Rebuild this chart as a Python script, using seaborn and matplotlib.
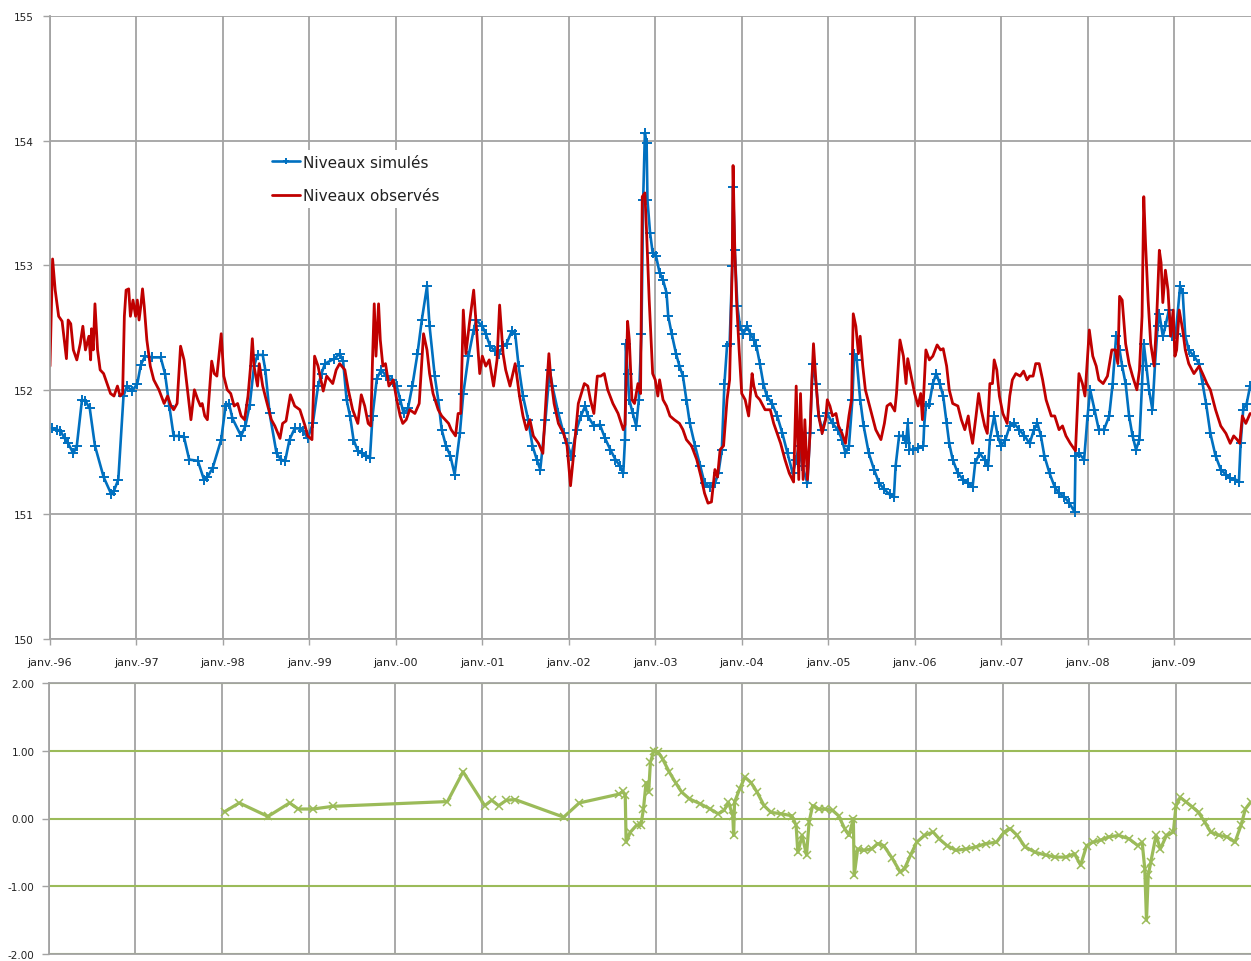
import pandas as pd
import matplotlib
matplotlib.use("Agg")
import matplotlib.pyplot as plt
import seaborn as sns

OUT_FILE = "out.png"

# niveaux observés (année décimale, m)
obs_year = [
    1996.00, 1996.03, 1996.06, 1996.10, 1996.14, 1996.19, 1996.21, 1996.24, 1996.27, 1996.31,
    1996.35, 1996.38, 1996.41, 1996.45, 1996.47, 1996.48, 1996.50, 1996.52, 1996.55, 1996.58,
    1996.62, 1996.66, 1996.70, 1996.74, 1996.78, 1996.81, 1996.84, 1996.86, 1996.88, 1996.91,
    1996.93, 1996.96, 1996.99, 1997.01, 1997.03, 1997.05, 1997.07, 1997.09, 1997.12, 1997.16,
    1997.20, 1997.26, 1997.32, 1997.36, 1997.40, 1997.43, 1997.47, 1997.51, 1997.55, 1997.59,
    1997.63, 1997.67, 1997.71, 1997.74, 1997.76, 1997.79, 1997.82, 1997.87, 1997.90, 1997.93,
    1997.98, 1998.01, 1998.05, 1998.09, 1998.13, 1998.17, 1998.21, 1998.25, 1998.29, 1998.32,
    1998.34, 1998.36, 1998.40, 1998.42, 1998.46, 1998.50, 1998.56, 1998.60, 1998.66, 1998.69,
    1998.73, 1998.78, 1998.83, 1998.89, 1998.95, 1998.98, 1999.03, 1999.06, 1999.10, 1999.16,
    1999.20, 1999.27, 1999.31, 1999.35, 1999.41, 1999.45, 1999.50, 1999.56, 1999.60, 1999.64,
    1999.68, 1999.71, 1999.73, 1999.75, 1999.77, 1999.80, 1999.82, 1999.85, 1999.88, 1999.92,
    1999.97, 2000.01, 2000.05, 2000.08, 2000.12, 2000.16, 2000.22, 2000.27, 2000.32, 2000.36,
    2000.39, 2000.43, 2000.49, 2000.53, 2000.57, 2000.61, 2000.64, 2000.69, 2000.72, 2000.75,
    2000.78, 2000.81, 2000.85, 2000.87, 2000.90, 2000.93, 2000.97, 2001.00, 2001.04, 2001.08,
    2001.13, 2001.17, 2001.20, 2001.24, 2001.27, 2001.32, 2001.38, 2001.43, 2001.47, 2001.51,
    2001.55, 2001.59, 2001.65, 2001.70, 2001.74, 2001.77, 2001.79, 2001.83, 2001.88, 2001.94,
    2001.98, 2002.02, 2002.05, 2002.11, 2002.18, 2002.22, 2002.25, 2002.29, 2002.33, 2002.37,
    2002.41, 2002.45, 2002.51, 2002.57, 2002.63, 2002.65, 2002.68, 2002.70, 2002.73, 2002.76,
    2002.80, 2002.83, 2002.85, 2002.88, 2002.90, 2002.93, 2002.97, 2003.00, 2003.03, 2003.05,
    2003.09, 2003.13, 2003.17, 2003.22, 2003.28, 2003.32, 2003.36, 2003.42, 2003.48, 2003.53,
    2003.57, 2003.61, 2003.65, 2003.69, 2003.72, 2003.75, 2003.79, 2003.83, 2003.86, 2003.89,
    2003.90, 2003.92, 2003.94, 2003.97, 2004.00, 2004.04, 2004.08, 2004.12, 2004.14, 2004.17,
    2004.21, 2004.27, 2004.33, 2004.37, 2004.45, 2004.50, 2004.55, 2004.60, 2004.63, 2004.66,
    2004.68, 2004.71, 2004.73, 2004.76, 2004.79, 2004.81, 2004.83, 2004.86, 2004.89, 2004.93,
    2004.97, 2004.99, 2005.02, 2005.05, 2005.09, 2005.12, 2005.16, 2005.20, 2005.24, 2005.27,
    2005.29, 2005.32, 2005.35, 2005.37, 2005.40, 2005.43, 2005.49, 2005.55, 2005.61, 2005.65,
    2005.68, 2005.72, 2005.77, 2005.79, 2005.83, 2005.87, 2005.90, 2005.92, 2005.96, 2006.00,
    2006.04, 2006.07, 2006.09, 2006.13, 2006.17, 2006.21, 2006.26, 2006.30, 2006.33, 2006.37,
    2006.40, 2006.44, 2006.50, 2006.54, 2006.58, 2006.62, 2006.64, 2006.67, 2006.71, 2006.74,
    2006.77, 2006.81, 2006.84, 2006.87, 2006.90, 2006.92, 2006.95, 2006.98, 2007.02, 2007.07,
    2007.10, 2007.13, 2007.17, 2007.22, 2007.26, 2007.30, 2007.33, 2007.37, 2007.40, 2007.44,
    2007.48, 2007.52, 2007.58, 2007.62, 2007.67, 2007.71, 2007.75, 2007.80, 2007.86, 2007.90,
    2007.94, 2007.97, 2008.02, 2008.06, 2008.10, 2008.13, 2008.18, 2008.23, 2008.28, 2008.32,
    2008.35, 2008.37, 2008.40, 2008.44, 2008.48, 2008.52, 2008.57, 2008.60, 2008.63, 2008.65,
    2008.67, 2008.70, 2008.73, 2008.77, 2008.80, 2008.83, 2008.85, 2008.87, 2008.90, 2008.93,
    2008.96, 2008.99, 2009.01, 2009.03, 2009.06, 2009.10, 2009.13, 2009.17, 2009.23, 2009.29,
    2009.33, 2009.38, 2009.42, 2009.48, 2009.54, 2009.60, 2009.65, 2009.69, 2009.73, 2009.76,
    2009.79, 2009.83, 2009.88,
]
obs_level = [
    152.19, 153.05, 152.80, 152.59, 152.55, 152.25, 152.56, 152.53, 152.32, 152.24,
    152.37, 152.51, 152.32, 152.43, 152.24, 152.49, 152.32, 152.69, 152.32, 152.16,
    152.13, 152.05, 151.97, 151.95, 152.03, 151.95, 151.97, 152.59, 152.80, 152.81,
    152.59, 152.72, 152.59, 152.72, 152.56, 152.67, 152.81, 152.67, 152.40, 152.19,
    152.08, 152.00, 151.89, 151.95, 151.87, 151.84, 151.89, 152.35, 152.24, 152.00,
    151.76, 152.00, 151.92, 151.87, 151.89, 151.79, 151.76, 152.23, 152.13, 152.11,
    152.45, 152.11, 152.00, 151.97, 151.87, 151.89, 151.79, 151.76, 151.95, 152.19,
    152.41, 152.19, 152.03, 152.21, 152.03, 151.92, 151.76, 151.71, 151.61, 151.73,
    151.75, 151.96, 151.87, 151.84, 151.71, 151.63, 151.60, 152.27, 152.19, 151.99,
    152.11, 152.05, 152.16, 152.21, 152.16, 152.00, 151.84, 151.73, 151.96, 151.87,
    151.73, 151.71, 152.24, 152.69, 152.27, 152.69, 152.40, 152.19, 152.21, 152.03,
    152.08, 151.92, 151.79, 151.73, 151.76, 151.84, 151.81, 151.89, 152.45, 152.32,
    152.13, 151.97, 151.84, 151.79, 151.76, 151.73, 151.68, 151.63, 151.81, 151.81,
    152.64, 152.29, 152.53, 152.64, 152.80, 152.51, 152.13, 152.27, 152.19, 152.24,
    152.03, 152.24, 152.68, 152.29, 152.16, 152.03, 152.21, 151.95, 151.79, 151.68,
    151.76, 151.63, 151.57, 151.49, 151.97, 152.29, 152.11, 151.89, 151.73, 151.65,
    151.55, 151.23, 151.44, 151.89, 152.05, 152.03, 151.92, 151.81, 152.11, 152.11,
    152.13, 152.00, 151.89, 151.81, 151.68, 151.72, 152.55, 152.40, 151.92, 151.89,
    152.05, 151.97, 153.55, 153.58, 153.26, 152.72, 152.13, 152.08, 151.95, 152.08,
    151.92, 151.87, 151.79, 151.76, 151.73, 151.68, 151.60, 151.55, 151.44, 151.30,
    151.17, 151.09, 151.10, 151.36, 151.30, 151.52, 151.55, 151.92, 152.08, 152.99,
    153.80, 153.12, 152.72, 152.32, 151.97, 151.92, 151.79, 152.13, 152.03, 151.95,
    151.92, 151.84, 151.84, 151.73, 151.57, 151.44, 151.33, 151.26, 152.03, 151.28,
    151.97, 151.28, 151.76, 151.28, 151.65, 152.05, 152.37, 152.05, 151.79, 151.65,
    151.76, 151.92, 151.87, 151.79, 151.81, 151.71, 151.65, 151.57, 151.79, 151.92,
    152.61, 152.51, 152.29, 152.43, 152.19, 152.00, 151.84, 151.68, 151.60, 151.73,
    151.87, 151.89, 151.83, 151.97, 152.40, 152.27, 152.05, 152.25, 152.11, 151.97,
    151.87, 151.97, 151.76, 152.32, 152.24, 152.27, 152.36, 152.32, 152.33, 152.19,
    152.00, 151.89, 151.87, 151.76, 151.68, 151.79, 151.68, 151.57, 151.79, 151.97,
    151.84, 151.71, 151.65, 152.05, 152.05, 152.24, 152.16, 151.95, 151.81, 151.73,
    151.95, 152.08, 152.13, 152.11, 152.15, 152.08, 152.11, 152.11, 152.21, 152.21,
    152.08, 151.92, 151.79, 151.79, 151.68, 151.71, 151.63, 151.57, 151.51, 152.13,
    152.05, 151.95, 152.48, 152.27, 152.19, 152.08, 152.05, 152.11, 152.32, 152.32,
    152.21, 152.75, 152.72, 152.37, 152.21, 152.11, 152.00, 152.16, 152.59, 153.55,
    153.18, 152.72, 152.37, 152.19, 152.59, 153.12, 153.02, 152.70, 152.96, 152.80,
    152.43, 152.64, 152.27, 152.32, 152.64, 152.48, 152.32, 152.21, 152.13, 152.19,
    152.13, 152.05, 152.00, 151.84, 151.71, 151.65, 151.57, 151.63, 151.60, 151.57,
    151.79, 151.73, 151.81,
]

# niveaux simulés
sim_year = [
    1996.02, 1996.08, 1996.12, 1996.17, 1996.21, 1996.27, 1996.31, 1996.37, 1996.41, 1996.46,
    1996.52, 1996.62, 1996.71, 1996.74, 1996.79, 1996.85, 1996.89, 1996.95, 1997.01, 1997.05,
    1997.10, 1997.18, 1997.28, 1997.33, 1997.38, 1997.43, 1997.49, 1997.55, 1997.61, 1997.71,
    1997.78, 1997.82, 1997.88, 1997.98, 1998.03, 1998.07, 1998.11, 1998.21, 1998.26, 1998.31,
    1998.36, 1998.40, 1998.46, 1998.49, 1998.54, 1998.62, 1998.67, 1998.72, 1998.77, 1998.83,
    1998.89, 1998.93, 1998.98, 1999.04, 1999.10, 1999.14, 1999.18, 1999.29, 1999.35, 1999.39,
    1999.43, 1999.47, 1999.51, 1999.56, 1999.61, 1999.66, 1999.70, 1999.73, 1999.78, 1999.83,
    1999.89, 1999.95, 2000.01, 2000.05, 2000.09, 2000.14, 2000.19, 2000.25, 2000.30, 2000.36,
    2000.39, 2000.45, 2000.49, 2000.53, 2000.58, 2000.63, 2000.68, 2000.74, 2000.78, 2000.84,
    2000.90, 2000.93, 2001.00, 2001.04, 2001.09, 2001.15, 2001.19, 2001.24, 2001.28, 2001.34,
    2001.38, 2001.42, 2001.47, 2001.53, 2001.58, 2001.63, 2001.67, 2001.73, 2001.78, 2001.81,
    2001.88, 2001.94, 2001.98, 2002.03, 2002.09, 2002.14, 2002.19, 2002.22, 2002.29, 2002.36,
    2002.42, 2002.48, 2002.54, 2002.59, 2002.63, 2002.65, 2002.66, 2002.68, 2002.70, 2002.74,
    2002.78, 2002.81, 2002.84, 2002.86, 2002.88, 2002.90, 2002.91, 2002.94, 2002.97, 2003.01,
    2003.05, 2003.09, 2003.13, 2003.15, 2003.19, 2003.24, 2003.28, 2003.32, 2003.36, 2003.40,
    2003.46, 2003.52, 2003.57, 2003.63, 2003.69, 2003.73, 2003.77, 2003.80, 2003.83, 2003.86,
    2003.89, 2003.90, 2003.92, 2003.95, 2003.98, 2004.02, 2004.06, 2004.10, 2004.14, 2004.17,
    2004.21, 2004.25, 2004.29, 2004.35, 2004.41, 2004.47, 2004.53, 2004.59, 2004.63, 2004.66,
    2004.70, 2004.76, 2004.79, 2004.82, 2004.86, 2004.89, 2004.93, 2004.99, 2005.05, 2005.11,
    2005.16, 2005.20, 2005.24, 2005.28, 2005.30, 2005.33, 2005.37, 2005.41, 2005.47, 2005.53,
    2005.59, 2005.65, 2005.71, 2005.76, 2005.78, 2005.82, 2005.87, 2005.90, 2005.92, 2005.94,
    2005.98, 2006.04, 2006.10, 2006.11, 2006.13, 2006.17, 2006.21, 2006.25, 2006.29, 2006.33,
    2006.37, 2006.40, 2006.44, 2006.50, 2006.56, 2006.62, 2006.67, 2006.70, 2006.75, 2006.81,
    2006.85, 2006.87, 2006.92, 2006.96, 2007.00, 2007.05, 2007.10, 2007.15, 2007.21, 2007.27,
    2007.33, 2007.38, 2007.42, 2007.46, 2007.50, 2007.56, 2007.62, 2007.67, 2007.73, 2007.79,
    2007.85, 2007.86, 2007.90, 2007.96, 2008.00, 2008.03, 2008.08, 2008.13, 2008.19, 2008.25,
    2008.29, 2008.33, 2008.37, 2008.40, 2008.44, 2008.48, 2008.52, 2008.56, 2008.60, 2008.63,
    2008.65, 2008.68, 2008.71, 2008.75, 2008.78, 2008.81, 2008.83, 2008.87, 2008.90, 2008.94,
    2008.98, 2009.02, 2009.07, 2009.10, 2009.13, 2009.17, 2009.23, 2009.29, 2009.33, 2009.37,
    2009.42, 2009.48, 2009.54, 2009.60, 2009.65, 2009.71, 2009.75, 2009.77, 2009.80, 2009.84,
    2009.88,
]
sim_level = [
    151.69, 151.68, 151.67, 151.61, 151.57, 151.49, 151.55, 151.92, 151.91, 151.85,
    151.55, 151.30, 151.16, 151.19, 151.28, 151.95, 152.03, 151.99, 152.05, 152.20,
    152.27, 152.26, 152.26, 152.13, 151.87, 151.63, 151.63, 151.62, 151.44, 151.43,
    151.28, 151.30, 151.37, 151.60, 151.87, 151.89, 151.77, 151.63, 151.71, 151.88,
    152.19, 152.28, 152.28, 152.16, 151.81, 151.49, 151.44, 151.43, 151.60, 151.69,
    151.69, 151.67, 151.61, 151.73, 152.03, 152.13, 152.21, 152.25, 152.29, 152.23,
    151.92, 151.79, 151.60, 151.51, 151.49, 151.47, 151.45, 151.79, 152.09, 152.16,
    152.11, 152.08, 152.03, 151.92, 151.81, 151.85, 152.03, 152.29, 152.56, 152.83,
    152.51, 152.11, 151.92, 151.68, 151.55, 151.47, 151.32, 151.65, 151.97, 152.27,
    152.48, 152.56, 152.51, 152.45, 152.35, 152.31, 152.29, 152.35, 152.37, 152.47,
    152.45, 152.19, 151.95, 151.76, 151.55, 151.44, 151.36, 151.76, 152.16, 152.03,
    151.81, 151.65, 151.57, 151.47, 151.68, 151.79, 151.87, 151.79, 151.71, 151.72,
    151.61, 151.52, 151.44, 151.39, 151.33, 151.60, 152.37, 152.13, 151.92, 151.81,
    151.71, 151.92, 152.45, 153.52, 154.06, 153.98, 153.52, 153.26, 153.10, 153.07,
    152.94, 152.88, 152.78, 152.59, 152.45, 152.29, 152.19, 152.11, 151.92, 151.73,
    151.55, 151.39, 151.25, 151.22, 151.25, 151.33, 151.52, 152.05, 152.35, 152.37,
    152.99, 153.63, 153.12, 152.67, 152.51, 152.45, 152.51, 152.45, 152.40, 152.35,
    152.21, 152.05, 151.95, 151.89, 151.79, 151.65, 151.49, 151.33, 151.44, 151.55,
    151.39, 151.25, 151.65, 152.21, 152.05, 151.79, 151.68, 151.81, 151.73, 151.68,
    151.60, 151.49, 151.55, 151.92, 152.29, 152.24, 151.92, 151.71, 151.49, 151.36,
    151.25, 151.20, 151.16, 151.14, 151.39, 151.63, 151.63, 151.57, 151.73, 151.52,
    151.52, 151.53, 151.55, 151.71, 151.87, 151.89, 152.05, 152.13, 152.05, 151.95,
    151.73, 151.57, 151.44, 151.33, 151.28, 151.25, 151.22, 151.41, 151.49, 151.44,
    151.39, 151.60, 151.79, 151.63, 151.55, 151.60, 151.71, 151.73, 151.68, 151.63,
    151.57, 151.68, 151.73, 151.63, 151.47, 151.33, 151.22, 151.17, 151.14, 151.09,
    151.02, 151.47, 151.49, 151.44, 151.79, 152.00, 151.84, 151.68, 151.68, 151.79,
    152.05, 152.43, 152.32, 152.19, 152.05, 151.79, 151.63, 151.52, 151.60, 152.05,
    152.37, 152.19, 152.00, 151.84, 152.21, 152.51, 152.61, 152.43, 152.51, 152.64,
    152.43, 152.45, 152.83, 152.78, 152.43, 152.32, 152.27, 152.21, 152.05, 151.89,
    151.65, 151.47, 151.36, 151.32, 151.29, 151.28, 151.26, 151.57, 151.84, 151.89,
    152.03,
]

# écarts simulé - observé
res_year = [
    1998.03, 1998.20, 1998.53, 1998.78, 1998.88, 1999.05, 1999.28, 2000.60, 2000.78, 2001.03,
    2001.11, 2001.19, 2001.28, 2001.38, 2001.94, 2002.12, 2002.58, 2002.62, 2002.65, 2002.66,
    2002.71, 2002.78, 2002.83, 2002.86, 2002.89, 2002.92, 2002.94, 2002.98, 2003.03, 2003.08,
    2003.16, 2003.23, 2003.30, 2003.39, 2003.51, 2003.63, 2003.72, 2003.79, 2003.84, 2003.89,
    2003.90, 2003.91, 2003.97, 2004.03, 2004.10, 2004.17, 2004.25, 2004.33, 2004.45, 2004.57,
    2004.62, 2004.64, 2004.69, 2004.74, 2004.77, 2004.81, 2004.88, 2004.95, 2005.04, 2005.11,
    2005.18, 2005.23, 2005.28, 2005.29, 2005.33, 2005.40, 2005.49, 2005.56, 2005.63, 2005.73,
    2005.82, 2005.87, 2005.94, 2006.01, 2006.10, 2006.20, 2006.27, 2006.36, 2006.46, 2006.58,
    2006.69, 2006.81, 2006.93, 2007.02, 2007.09, 2007.17, 2007.26, 2007.38, 2007.50, 2007.61,
    2007.73, 2007.83, 2007.90, 2007.97, 2008.04, 2008.13, 2008.23, 2008.34, 2008.46, 2008.56,
    2008.61, 2008.64, 2008.66, 2008.68, 2008.71, 2008.77, 2008.82, 2008.89, 2008.97, 2009.00,
    2009.05, 2009.12, 2009.19, 2009.26, 2009.33, 2009.40, 2009.50, 2009.59, 2009.68, 2009.75,
    2009.80, 2009.86,
]
res_value = [
    0.10, 0.23, 0.03, 0.23, 0.14, 0.14, 0.18, 0.25, 0.69, 0.19,
    0.27, 0.19, 0.27, 0.28, 0.02, 0.23, 0.36, 0.40, 0.34, -0.35,
    -0.20, -0.10, -0.10, 0.14, 0.53, 0.39, 0.83, 1.00, 0.98, 0.88,
    0.68, 0.53, 0.39, 0.29, 0.22, 0.14, 0.07, 0.12, 0.24, 0.04,
    -0.25, 0.24, 0.44, 0.61, 0.53, 0.39, 0.19, 0.09, 0.07, 0.04,
    -0.10, -0.50, -0.25, -0.54, -0.05, 0.19, 0.14, 0.14, 0.12, 0.04,
    -0.15, -0.25, 0.00, -0.84, -0.45, -0.47, -0.45, -0.37, -0.40, -0.59,
    -0.79, -0.74, -0.54, -0.35, -0.25, -0.20, -0.30, -0.40, -0.47, -0.45,
    -0.42, -0.37, -0.35, -0.20, -0.15, -0.25, -0.42, -0.50, -0.54, -0.57,
    -0.57, -0.52, -0.69, -0.40, -0.35, -0.32, -0.27, -0.25, -0.30, -0.40,
    -0.35, -0.74, -1.50, -0.84, -0.64, -0.25, -0.45, -0.25, -0.20, 0.19,
    0.31, 0.24, 0.17, 0.09, -0.05, -0.20, -0.25, -0.27, -0.35, -0.10,
    0.14, 0.24,
]

year_ticks = [1996, 1997, 1998, 1999, 2000, 2001, 2002, 2003, 2004, 2005, 2006, 2007, 2008, 2009]
year_labels = ["janv.-96", "janv.-97", "janv.-98", "janv.-99", "janv.-00", "janv.-01", "janv.-02",
               "janv.-03", "janv.-04", "janv.-05", "janv.-06", "janv.-07", "janv.-08", "janv.-09"]
level_ticks = [150, 151, 152, 153, 154, 155]
res_ticks = [-2.0, -1.0, 0.0, 1.0, 2.0]

BLUE = "#0070C0"
RED = "#C00000"
GREEN = "#9BBB59"
GRID = "#A3A3A3"
W, H = 1251, 962


def style_axis(ax):
    ax.set_xlabel("")
    ax.set_ylabel("")
    ax.set_axisbelow(True)
    for side in ("top", "right"):
        ax.spines[side].set_visible(False)
    for side in ("left", "bottom"):
        ax.spines[side].set_color(GRID)
        ax.spines[side].set_linewidth(1.3)
    ax.xaxis.grid(True, color=GRID, linewidth=1.3)


def main():
    sns.set_theme(style="white")
    plt.rcParams["font.family"] = ["DejaVu Sans"]

    fig = plt.figure(figsize=(W / 100, H / 100), dpi=100)
    ax = fig.add_axes([50 / W, 1 - 640 / H, 1 - 50 / W, (640 - 17) / H])
    ax2 = fig.add_axes([48.5 / W, 1 - 955 / H, 1 - 48.5 / W, (955 - 684) / H])

    sim = pd.DataFrame({"annee": sim_year, "niveau": sim_level})
    obs = pd.DataFrame({"annee": obs_year, "niveau": obs_level})
    res = pd.DataFrame({"annee": res_year, "ecart": res_value})

    sns.lineplot(data=sim, x="annee", y="niveau", ax=ax, color=BLUE, linewidth=1.9,
                 marker="+", markersize=6.5, markeredgewidth=1.4, markeredgecolor=BLUE,
                 sort=False, estimator=None, label="Niveaux simulés")
    sns.lineplot(data=obs, x="annee", y="niveau", ax=ax, color=RED, linewidth=2.0,
                 sort=False, estimator=None, label="Niveaux observés")
    sns.lineplot(data=res, x="annee", y="ecart", ax=ax2, color=GREEN, linewidth=2.3,
                 marker="x", markersize=6, markeredgewidth=1.1, markeredgecolor=GREEN,
                 sort=False, estimator=None, legend=False)

    # panneau haut
    style_axis(ax)
    ax.yaxis.grid(True, color=GRID, linewidth=1.3)
    ax.set_xlim(1996.0, 2009.89)
    ax.set_ylim(150, 155)
    ax.set_xticks(year_ticks)
    ax.set_xticklabels(year_labels)
    ax.set_yticks(level_ticks)
    ax.set_yticklabels([str(v) for v in level_ticks])
    ax.tick_params(axis="x", bottom=True, length=4, width=1, color=GRID,
                   pad=9, labelsize=8, labelcolor="#222222")
    ax.tick_params(axis="y", left=True, length=5, width=1, color=GRID,
                   pad=7, labelsize=7.5, labelcolor="#222222")

    # légende sur fond blanc, comme dans Excel
    leg = ax.legend(loc="upper left", bbox_to_anchor=(267.5 / W, 1 - 151 / H),
                    bbox_transform=fig.transFigure, frameon=True, facecolor="white",
                    edgecolor="none", framealpha=1, fancybox=False, fontsize=11,
                    handlelength=1.85, handletextpad=0.15, labelspacing=1.2,
                    borderpad=0.3, borderaxespad=0, markerscale=0.6)
    for t in leg.get_texts():
        t.set_color("#222222")

    # panneau bas
    style_axis(ax2)
    ax2.spines["top"].set_visible(True)
    ax2.spines["top"].set_color(GRID)
    ax2.spines["top"].set_linewidth(1.3)
    ax2.yaxis.grid(True, color=GREEN, linewidth=1.5)
    ax2.set_xlim(1996.0, 2009.865)
    ax2.set_ylim(-2, 2)
    ax2.set_xticks(year_ticks)
    ax2.set_xticklabels([])
    ax2.set_yticks(res_ticks)
    ax2.set_yticklabels([f"{v:.2f}" for v in res_ticks])
    ax2.tick_params(axis="x", bottom=False, length=0)
    ax2.tick_params(axis="y", left=True, length=5, width=1, color=GRID,
                    pad=5, labelsize=7.5, labelcolor="#222222")

    fig.savefig(OUT_FILE, dpi=100)
    plt.close(fig)


if __name__ == "__main__":
    main()
